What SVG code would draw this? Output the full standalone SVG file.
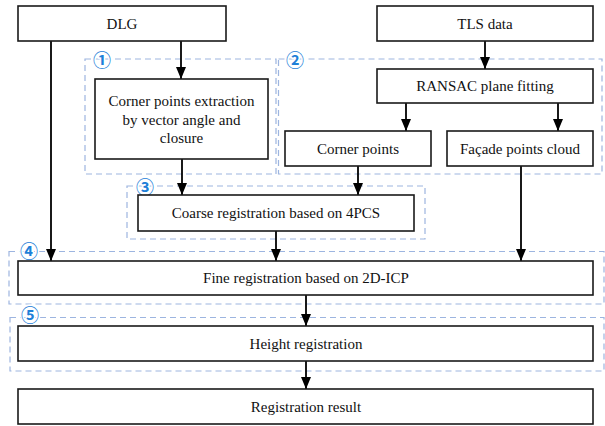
<svg xmlns="http://www.w3.org/2000/svg" width="605" height="426" viewBox="0 0 605 426">
<style>
.box{fill:#fff;stroke:#1a1a1a;stroke-width:1.6}
.grp{fill:none;stroke:#9db5e0;stroke-width:1.2;stroke-dasharray:6,4}
.t{font-family:"Liberation Serif","Times New Roman",serif;font-size:15px;fill:#111;text-anchor:middle;dominant-baseline:central}
.n{font-family:"Noto Sans CJK SC","DejaVu Sans",sans-serif;font-size:18px;font-weight:bold;fill:#1e80d8;text-anchor:middle;dominant-baseline:central;stroke:#fff;stroke-width:3px;paint-order:stroke}
.c{stroke:#000;stroke-width:1.8;fill:none;marker-end:url(#ah)}
</style>
<defs>
<marker id="ah" viewBox="0 0 12 10" refX="12" refY="5" markerWidth="12" markerHeight="10" markerUnits="userSpaceOnUse" orient="auto">
<path d="M0,0 L12,5 L0,10 z" fill="#000"/>
</marker>
</defs>
<rect width="605" height="426" fill="#fff"/>
<g id="groups">
<g id="group1"><rect class="grp" x="85" y="59" width="191" height="115"/><text class="n" x="102" y="59">①</text></g>
<g id="group2"><rect class="grp" x="278.5" y="59" width="323.5" height="115"/><text class="n" x="295" y="59">②</text></g>
<g id="group3"><rect class="grp" x="127" y="186" width="298" height="53"/><text class="n" x="145" y="186">③</text></g>
<g id="group4"><rect class="grp" x="9" y="251.5" width="595" height="52.5"/><text class="n" x="29" y="250">④</text></g>
<g id="group5"><rect class="grp" x="10" y="317.5" width="594" height="53.5"/><text class="n" x="30" y="314">⑤</text></g>
</g>
<g id="connectors">
<line class="c" x1="51" y1="41" x2="51" y2="261"/>
<line class="c" x1="181" y1="41" x2="181" y2="79"/>
<line class="c" x1="485" y1="41" x2="485" y2="69"/>
<line class="c" x1="406" y1="103" x2="406" y2="131"/>
<line class="c" x1="558" y1="103" x2="558" y2="131"/>
<line class="c" x1="182" y1="159" x2="182" y2="195"/>
<line class="c" x1="358" y1="166" x2="358" y2="195"/>
<line class="c" x1="521" y1="166" x2="521" y2="261"/>
<line class="c" x1="276" y1="231" x2="276" y2="261"/>
<line class="c" x1="306" y1="295" x2="306" y2="326"/>
<line class="c" x1="306" y1="361" x2="306" y2="389"/>
</g>
<g id="dlg"><rect class="box" x="18" y="6" width="208" height="35"/><text class="t" x="122" y="23.5">DLG</text></g>
<g id="tls"><rect class="box" x="377" y="6" width="216" height="35"/><text class="t" x="485" y="23.5">TLS data</text></g>
<g id="corner-extraction"><rect class="box" x="95" y="79" width="173" height="80"/>
<text class="t" x="181.5" y="101">Corner points extraction</text>
<text class="t" x="181.5" y="119.5">by vector angle and</text>
<text class="t" x="181.5" y="138">closure</text></g>
<g id="ransac"><rect class="box" x="377" y="69" width="216" height="34"/><text class="t" x="485" y="86">RANSAC plane fitting</text></g>
<g id="corner-points"><rect class="box" x="285" y="131" width="146" height="35"/><text class="t" x="358" y="148.5">Corner points</text></g>
<g id="facade"><rect class="box" x="447" y="131" width="146" height="35"/><text class="t" x="520" y="148.5">Façade points cloud</text></g>
<g id="coarse"><rect class="box" x="138" y="195" width="276" height="36"/><text class="t" x="276" y="213">Coarse registration based on 4PCS</text></g>
<g id="fine"><rect class="box" x="18" y="261" width="575" height="34"/><text class="t" x="306" y="278">Fine registration based on 2D-ICP</text></g>
<g id="height"><rect class="box" x="18" y="326" width="575" height="35"/><text class="t" x="306" y="343.5">Height registration</text></g>
<g id="result"><rect class="box" x="18" y="389" width="575" height="35"/><text class="t" x="306" y="406.5">Registration result</text></g>
</svg>
